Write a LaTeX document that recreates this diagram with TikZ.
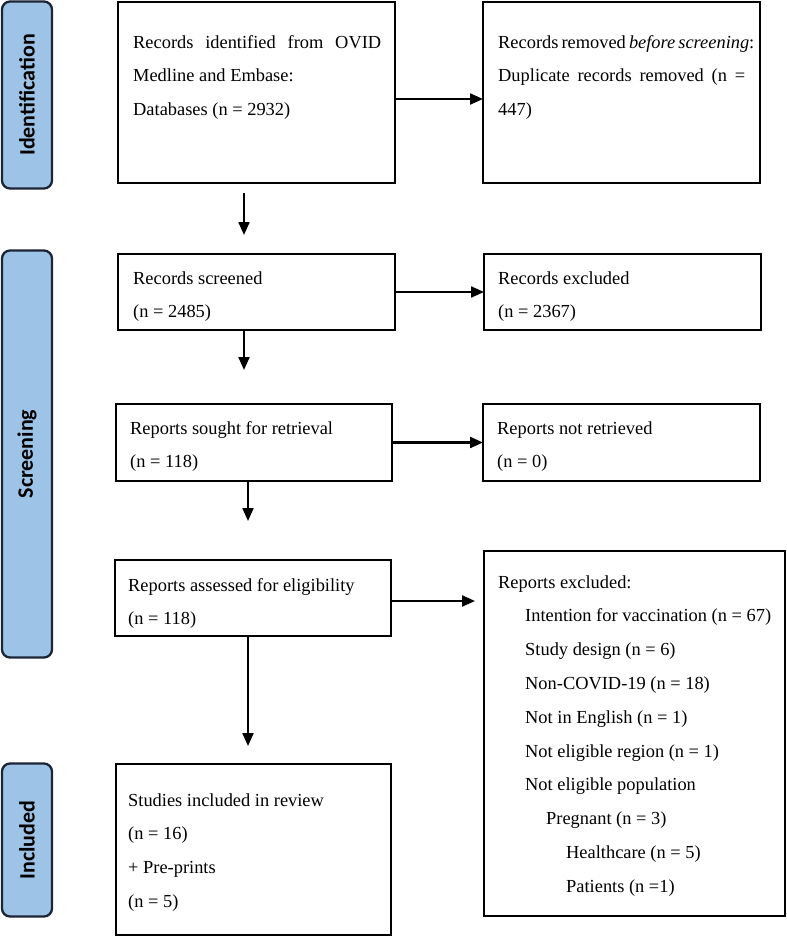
\documentclass[tikz,border=0pt]{standalone}
\usepackage{fontspec}
\setmainfont{Liberation Serif}
\newfontfamily\barfont{Carlito}
\usetikzlibrary{arrows.meta}
\definecolor{barblue}{HTML}{9DC3E6}
\definecolor{bardraw}{HTML}{1C2536}
\newcommand{\boxtext}[1]{\parbox[t]{300pt}{\fontsize{18.4}{33.8}\selectfont #1}}
\begin{document}
\begin{tikzpicture}[x=1pt,y=-1pt,
  box/.style={draw=black, line width=2.3pt, inner sep=0pt, outer sep=0pt, anchor=north west},
  bar/.style={draw=bardraw, fill=barblue, line width=2.3pt, rounded corners=8pt, rotate=90,
    inner sep=0pt, minimum height=50pt, font=\barfont\bfseries\fontsize{22}{22}\selectfont, text=black},
  txt/.style={anchor=base west, inner sep=0pt},
  arr/.style={line width=2.2pt, -{Triangle[length=13pt,width=11pt]}}]
\useasboundingbox (0,0) rectangle (787,937);
% phase bars
\node[bar, minimum width=187pt] (pid) at (27,95) {Identification};
\node[bar, minimum width=407pt] (psc) at (27,454) {Screening};
\node[bar, minimum width=153pt] (pin) at (27,840) {Included};
% boxes
\node[box, minimum width=277pt, minimum height=181pt] (b1) at (118,2) {};
\node[box, minimum width=277pt, minimum height=181pt] (b2) at (483,2) {};
\node[box, minimum width=277pt, minimum height=76pt] (b3) at (118,254) {};
\node[box, minimum width=277pt, minimum height=76pt] (b4) at (484,254) {};
\node[box, minimum width=276pt, minimum height=77pt] (b5) at (116,404) {};
\node[box, minimum width=277pt, minimum height=77pt] (b6) at (483,404) {};
\node[box, minimum width=276pt, minimum height=76pt] (b7) at (115,560) {};
\node[box, minimum width=301pt, minimum height=365pt] (b8) at (484,551) {};
\node[box, minimum width=275pt, minimum height=171pt] (b9) at (116,764) {};
% texts
\node[txt] (t1) at (133,48) {\boxtext{\makebox[248pt][s]{Records identified from OVID}\\ Medline and Embase:\\ Databases (n = 2932)}};
\node[txt] (t2) at (498,48) {\boxtext{\makebox[247pt][s]{Records removed \textit{before screening}:}\\ \makebox[247pt][s]{Duplicate records removed (n =}\\ 447)}};
\node[txt] (t3) at (133,284) {\boxtext{Records screened\\ (n = 2485)}};
\node[txt] (t4) at (498,284) {\boxtext{Records excluded\\ (n = 2367)}};
\node[txt] (t5) at (130,434) {\boxtext{Reports sought for retrieval\\ (n = 118)}};
\node[txt] (t6) at (497,434) {\boxtext{Reports not retrieved\\ (n = 0)}};
\node[txt] (t7) at (128,591) {\boxtext{Reports assessed for eligibility\\ (n = 118)}};
\node[txt] (t8) at (498,588) {\boxtext{Reports excluded:\\
  \hspace*{27pt}Intention for vaccination (n = 67)\\
  \hspace*{27pt}Study design (n = 6)\\
  \hspace*{27pt}Non-COVID-19 (n = 18)\\
  \hspace*{27pt}Not in English (n = 1)\\
  \hspace*{27pt}Not eligible region (n = 1)\\
  \hspace*{27pt}Not eligible population\\
  \hspace*{48pt}Pregnant (n = 3)\\
  \hspace*{68pt}Healthcare (n = 5)\\
  \hspace*{68pt}Patients (n =1)}};
\node[txt] (t9) at (128,806) {\boxtext{Studies included in review\\ (n = 16)\\ + Pre-prints\\ (n = 5)}};
% connectors
\draw[arr] ([yshift=-6.5pt]b1.east) -- ([yshift=-6.5pt]b2.west);
\draw[arr] (b3.east) -- (b4.west);
\draw[arr] (b5.east) -- (b6.west);
\draw[arr, shorten >=9pt] ([yshift=-3pt]b7.east) -- ([yshift=-3pt]b7.east -| b8.west);
\draw[arr, shorten <=10pt, shorten >=19pt] ([xshift=-12.5pt]b1.south) -- ([xshift=-12.5pt]b1.south |- b3.north);
\draw[arr, shorten >=34pt] ([xshift=-12.5pt]b3.south) -- ([xshift=-12.5pt]b3.south |- b5.north);
\draw[arr, shorten >=39pt] ([xshift=-6pt]b5.south) -- ([xshift=-6pt]b5.south |- b7.north);
\draw[arr, shorten >=18pt] ([xshift=-5pt]b7.south) -- ([xshift=-5pt]b7.south |- b9.north);
\end{tikzpicture}
\end{document}
